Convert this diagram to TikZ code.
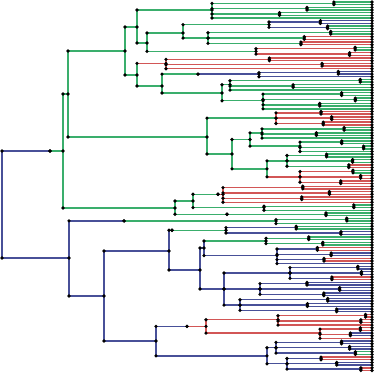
\documentclass[tikz,border=0pt]{standalone}
\usepackage{tikz}
\usepackage{xcolor}
\definecolor{gr}{RGB}{58,174,108}
\definecolor{rd}{RGB}{210,86,86}
\definecolor{bl}{RGB}{72,80,152}

\newif\ifdotpass
% elbow: vertical in parent colour, horizontal in child colour
\newcommand{\tbranch}[4]{%
  \ifdotpass
    \fill (#1 |- #2) circle (1.8pt);
    \fill (#2) circle (1.8pt);
  \else
    \draw[#3] (#1) -- (#1 |- #2);
    \draw[#4] (#1 |- #2) -- (#2);
  \fi
}

% leaves #3..#4 hung on node #1 at x=#2, in cherries
\newcommand{\tfan}[6]{%
  \pgfmathsetmacro{\fy}{2+2.67*(#3+#4)/2}
  \coordinate (#1) at (#2,\fy);
  \pgfmathtruncatemacro{\np}{floor((#4-#3)/2)}
  \foreach \j in {0,...,\np}{
    \pgfmathtruncatemacro{\ka}{#3+2*\j}
    \pgfmathtruncatemacro{\kb}{\ka+1}
    \coordinate (L\ka) at (372,{2+2.67*\ka});
    \ifnum\kb>#4
      \tbranch{#1}{L\ka}{#5}{#5}
    \else
      \coordinate (L\kb) at (372,{2+2.67*\kb});
      \pgfmathsetmacro{\cx}{#2+(372-#2)*(0.4+0.55*rnd)}
      \coordinate (#1c\j) at (\cx,{2+2.67*(\ka+0.5)});
      \tbranch{#1}{#1c\j}{#5}{#5}
      \pgfmathtruncatemacro{\pick}{rnd<0.6 ? 0 : 1}
      \ifnum\pick=0 \def\lc{#5}\else\def\lc{#6}\fi
      \tbranch{#1c\j}{L\ka}{#5}{\lc}
      \tbranch{#1c\j}{L\kb}{#5}{\lc}
    \fi
  }
}

\newcommand{\treebody}{%
\pgfmathsetseed{11}
% leaf groups
\tfan{g212}{212}{0}{6}{gr}{gr}
\tfan{f269}{269}{7}{10}{bl}{gr}
\tfan{g208}{208}{11}{16}{gr}{rd}
\tfan{g256}{256}{17}{20}{rd}{gr}
\tfan{r166}{166}{21}{25}{rd}{rd}
\tfan{b259}{259}{26}{28}{bl}{gr}
\tfan{g230}{230}{29}{33}{gr}{rd}
\tfan{g263}{263}{34}{40}{gr}{bl}
\tfan{r276}{276}{41}{46}{rd}{gr}
\tfan{g262}{262}{47}{51}{gr}{rd}
\tfan{g300}{300}{52}{56}{gr}{bl}
\tfan{g287}{287}{57}{62}{gr}{rd}
\tfan{r300}{300}{63}{68}{rd}{gr}
\tfan{r223}{223}{69}{75}{rd}{gr}
\tfan{g264}{264}{76}{78}{gr}{gr}
\tfan{g227}{227}{79}{80}{gr}{gr}
\tfan{g276}{276}{81}{83}{gr}{rd}
\tfan{b226}{226}{84}{87}{bl}{gr}
\tfan{g266}{266}{88}{91}{gr}{gr}
\tfan{b277}{277}{92}{98}{bl}{rd}
\tfan{b290}{290}{99}{104}{bl}{rd}
\tfan{b260}{260}{105}{110}{bl}{bl}
\tfan{b240}{240}{111}{116}{bl}{gr}
\tfan{r278}{278}{117}{121}{rd}{rd}
\tfan{r320}{320}{122}{126}{rd}{bl}
\tfan{b276}{276}{127}{132}{bl}{gr}
\tfan{b287}{287}{133}{138}{bl}{rd}
% inner nodes
\coordinate (root) at (2,205);
\coordinate (a1) at (50,151);
\coordinate (g63) at (63,151);
\coordinate (g68) at (68,94);
\coordinate (g125) at (125,51);
\coordinate (g137) at (137,27);
\coordinate (g147) at (147,43);
\coordinate (g183) at (183,33);
\coordinate (g137b) at (137,75);
\coordinate (g162) at (162,86);
\path (b259) ++(-61,0) coordinate (b198);
\coordinate (g222) at (222,93);
\coordinate (g207) at (207,137);
\coordinate (g232) at (232,154);
\coordinate (g250) at (250,139.5);
\coordinate (g267) at (267,168.9);
\coordinate (g175) at (175,208);
\coordinate (g193) at (193,201);
\path (r223) ++(-5,0) coordinate (g218);
\coordinate (b69) at (69,258);
\path (g276) ++(-152,0) coordinate (b124);
\coordinate (b104) at (104,296);
\coordinate (b169) at (169,251);
\path (b226) ++(-54,0) coordinate (b172);
\coordinate (b200) at (200,270);
\coordinate (b204) at (204,248);
\coordinate (b224) at (224,289);
\coordinate (b156) at (156,341);
\coordinate (r206) at (206,326.4);
\path (r206) ++(-19,0) coordinate (b187);
\coordinate (b267) at (267,355.8);
% green half
\tbranch{root}{a1}{bl}{bl}
\tbranch{a1}{g63}{bl}{gr}
\tbranch{g63}{g68}{gr}{gr}
\tbranch{g63}{g175}{gr}{gr}
\tbranch{g68}{g125}{gr}{gr}
\tbranch{g68}{g207}{gr}{gr}
\tbranch{g125}{g137}{gr}{gr}
\tbranch{g125}{g137b}{gr}{gr}
\tbranch{g137}{g212}{gr}{gr}
\tbranch{g137}{g147}{gr}{gr}
\tbranch{g147}{g183}{gr}{gr}
\tbranch{g147}{g256}{gr}{gr}
\tbranch{g183}{f269}{gr}{gr}
\tbranch{g183}{g208}{gr}{gr}
\tbranch{g137b}{r166}{gr}{rd}
\tbranch{g137b}{g162}{gr}{gr}
\tbranch{g162}{b198}{gr}{gr}
\tbranch{b198}{b259}{gr}{bl}
\tbranch{g162}{g222}{gr}{gr}
\tbranch{g222}{g230}{gr}{gr}
\tbranch{g222}{g263}{gr}{gr}
\tbranch{g207}{r276}{gr}{gr}
\tbranch{g207}{g232}{gr}{gr}
\tbranch{g232}{g250}{gr}{gr}
\tbranch{g232}{g267}{gr}{gr}
\tbranch{g250}{g262}{gr}{gr}
\tbranch{g250}{g300}{gr}{gr}
\tbranch{g267}{g287}{gr}{gr}
\tbranch{g267}{r300}{gr}{rd}
\tbranch{g175}{g193}{gr}{gr}
\tbranch{g175}{g227}{gr}{gr}
\tbranch{g193}{g218}{gr}{gr}
\tbranch{g218}{r223}{gr}{rd}
\tbranch{g193}{g264}{gr}{gr}
% blue half
\tbranch{root}{b69}{bl}{bl}
\tbranch{b69}{b124}{bl}{bl}
\tbranch{b124}{g276}{bl}{gr}
\tbranch{b69}{b104}{bl}{bl}
\tbranch{b104}{b169}{bl}{bl}
\tbranch{b104}{b156}{bl}{bl}
\tbranch{b169}{b172}{bl}{gr}
\tbranch{b172}{b226}{gr}{gr}
\tbranch{b169}{b200}{bl}{bl}
\tbranch{b200}{b204}{bl}{bl}
\tbranch{b200}{b224}{bl}{bl}
\tbranch{b204}{g266}{bl}{gr}
\tbranch{b204}{b277}{bl}{bl}
\tbranch{b224}{b290}{bl}{bl}
\tbranch{b224}{b260}{bl}{bl}
\tbranch{b224}{b240}{bl}{bl}
\tbranch{b156}{b187}{bl}{bl}
\tbranch{b187}{r206}{bl}{rd}
\tbranch{r206}{r278}{rd}{rd}
\tbranch{r206}{r320}{rd}{rd}
\tbranch{b156}{b267}{bl}{bl}
\tbranch{b267}{b276}{bl}{bl}
\tbranch{b267}{b287}{bl}{bl}
}

\begin{document}
\begin{tikzpicture}[x=1pt,y=-1pt,line width=1.4pt]
\fill[white] (0,0) rectangle (374,373);
\useasboundingbox (0,0) rectangle (374,373);

% lines first, dots on top
\dotpassfalse
\treebody
\dotpasstrue
\treebody
\end{tikzpicture}
\end{document}
